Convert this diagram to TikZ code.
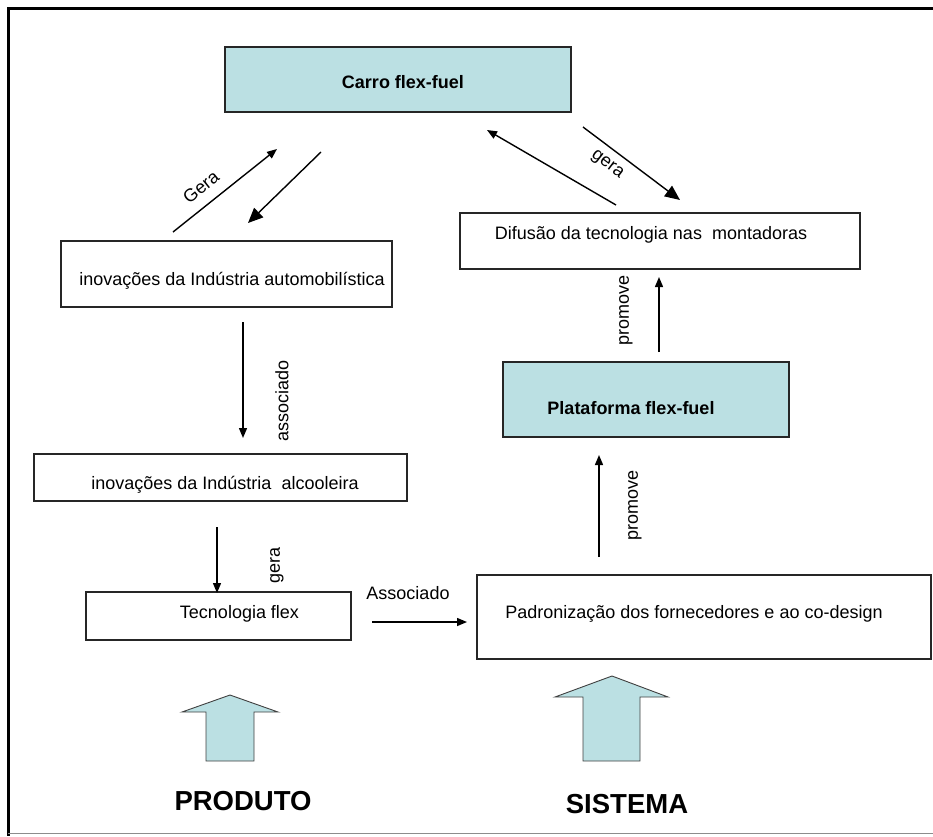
\documentclass[tikz,border=0pt]{standalone}
\usepackage{fontspec}
\setmainfont{Liberation Sans}
\usetikzlibrary{arrows.meta}
\definecolor{boxfill}{RGB}{187,224,227}

\begin{document}
\begin{tikzpicture}[x=1pt,y=-1pt,
  box/.style={draw=black!85, line width=1.1pt, rectangle, inner sep=0pt,
    text height=12.9pt, text depth=0pt, font=\fontsize{18}{20}\selectfont},
  hibox/.style={box, fill=boxfill, font=\fontsize{18}{20}\selectfont\bfseries},
  conn/.style={line width=1.4pt, -{Triangle[length=10pt,width=8pt]}},
  bigconn/.style={line width=1.4pt, -{Triangle[length=15pt,width=13pt]}},
  lbl/.style={inner sep=0pt, font=\fontsize{18}{20}\selectfont},
  blockarrow/.style={draw=black!75, line width=0.9pt, fill=boxfill, line join=miter},
  caption/.style={inner sep=0pt, anchor=base, font=\fontsize{27.5}{30}\selectfont\bfseries}
]
\useasboundingbox (0,0) rectangle (933,836);

% frame
\draw[line width=3pt] (7,8.5) -- (933,8.5);
\draw[line width=2.6pt] (8.7,7) -- (8.7,836);
\draw[black!45, line width=1pt] (8,833) -- (933,833);

% boxes
\node[hibox, minimum width=346pt, minimum height=65pt] (carro) at (398,79.5)
  {\hspace*{10pt}\raisebox{-3pt}{Carro flex-fuel}};
\node[box, minimum width=331pt, minimum height=66pt] (auto) at (226.5,274)
  {\hspace*{11pt}\raisebox{-5pt}{inovações da Indústria automobilística}};
\node[box, minimum width=373pt, minimum height=47pt] (alcool) at (220.5,477.5)
  {\hspace*{9pt}\raisebox{-6pt}{inovações da Indústria~ alcooleira}};
\node[box, minimum width=265pt, minimum height=48pt] (tecflex) at (218.5,616)
  {\hspace*{42pt}\raisebox{4pt}{Tecnologia flex}};
\node[box, minimum width=454pt, minimum height=84pt] (padron) at (704,617)
  {\raisebox{5pt}{Padronização dos fornecedores e ao co-design}\hspace*{20pt}};
\node[hibox, minimum width=286pt, minimum height=75pt] (plataf) at (646,399.5)
  {\raisebox{-9pt}{Plataforma flex-fuel}\hspace*{30pt}};
\node[box, minimum width=400pt, minimum height=56pt] (difusao) at (660,241)
  {\raisebox{8pt}{Difusão da tecnologia nas~ montadoras}\hspace*{18pt}};

% connector end points
\coordinate (geraA) at (173,232);  \coordinate (geraB) at (277,149);
\coordinate (voltaA) at (321,152); \coordinate (voltaB) at (248,223);
\coordinate (assocA) at (243,322); \coordinate (assocB) at (243,438);
\coordinate (gerA) at (217,527);   \coordinate (gerB) at (217,593);
\coordinate (ligA) at (372,622);   \coordinate (ligB) at (467,622);
\coordinate (promA) at (599,557);  \coordinate (promB) at (599,455);
\coordinate (promC) at (659,352);  \coordinate (promD) at (659,277);
\coordinate (difA) at (616,205);   \coordinate (difB) at (487,130);
\coordinate (carA) at (583,127);   \coordinate (carB) at (680,200);

% connectors
\draw[conn] (geraA) -- (geraB);
\draw[bigconn] (voltaA) -- (voltaB);
\draw[conn] (assocA) -- (assocB);
\draw[conn] (gerA) -- (gerB);
\draw[conn] (ligA) -- (ligB);
\draw[conn] (promA) -- (promB);
\draw[conn] (promC) -- (promD);
\draw[conn] (difA) -- (difB);
\draw[bigconn] (carA) -- (carB);

% connector labels
\node[lbl, rotate=38.6] (lgera) at (201,187) {Gera};
\node[lbl, rotate=-37] (lgera2) at (607,165) {gera};
\node[lbl, rotate=90] (lassoc) at (282,401) {associado};
\node[lbl, rotate=90] (lgera3) at (277,565) {gera};
\node[lbl] (lassoc2) at (408,593) {Associado};
\node[lbl, rotate=90] (lprom1) at (635,505) {promove};
\node[lbl, rotate=90] (lprom2) at (626,310) {promove};

% block arrows
\draw[blockarrow] (230,695) -- (278,712) -- (254,712) -- (254,761) -- (206,761)
  -- (206,712) -- (182,712) -- cycle;
\draw[blockarrow] (612,676) -- (668,697) -- (640,697) -- (640,761) -- (583,761)
  -- (583,697) -- (555,697) -- cycle;

\node[caption] (produto) at (243,810) {PRODUTO};
\node[caption] (sistema) at (627,813) {SISTEMA};
\end{tikzpicture}
\end{document}
